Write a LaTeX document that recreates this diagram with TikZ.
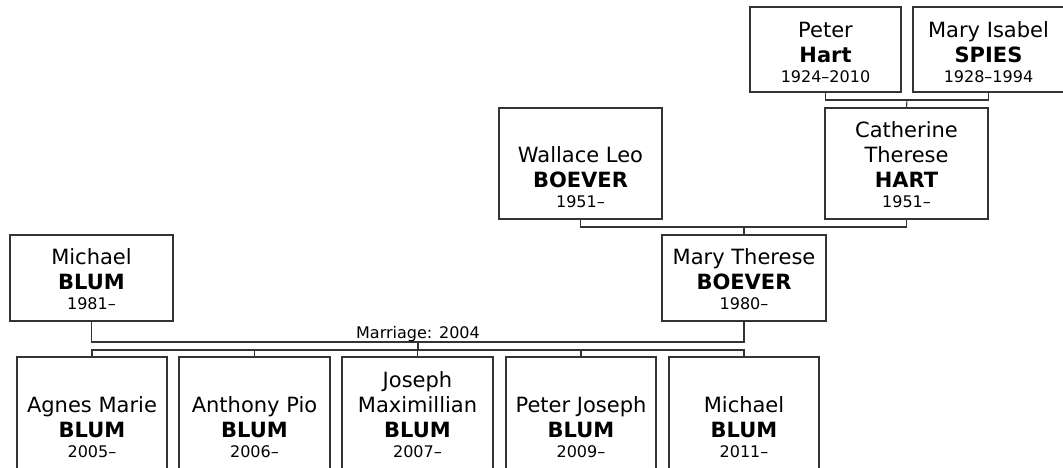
\documentclass[tikz,border=0pt]{standalone}
\usepackage{fontspec}
\setmainfont{DejaVu Sans}
\newcommand{\yr}{\fontsize{16}{19}\selectfont}
\tikzset{
  pbox/.style={draw=black!80, line width=1.1pt, inner sep=0pt, outer sep=0pt},
  ptext/.style={font=\fontsize{21}{25}\selectfont, align=center, inner sep=0pt, outer sep=0pt},
  conn/.style={draw=black!80, line width=1.1pt},
  mlabel/.style={font=\fontsize{16}{19}\selectfont, inner sep=0pt, anchor=base}
}
\newcommand{\person}[7]{%
  \node[pbox, minimum width={(#4-#2)*1pt}, minimum height={(#5-#3)*1pt}] (#1) at ({(#2+#4)/2},{(#3+#5)/2}) {};
  \node[ptext, anchor=south] (#1-t) at ({(#2+#4)/2},#6) {#7};
}
\begin{document}
\begin{tikzpicture}[x=1pt,y=-1pt]
\path[use as bounding box, fill=white] (0,0) rectangle (1063,468);

% grandparents
\person{peter}{750}{7}{901}{92}{83}{Peter\\\textbf{Hart}\\[-5pt]{\yr 1924–2010}}
\person{maryi}{913}{7}{1064}{92}{83}{Mary Isabel\\\textbf{SPIES}\\[-5pt]{\yr 1928–1994}}

% parents of Mary Therese
\person{wallace}{499}{108}{662}{219}{208}{Wallace Leo\\\textbf{BOEVER}\\[-5pt]{\yr 1951–}}
\person{cath}{825}{108}{988}{219}{208}{Catherine\\Therese\\\textbf{HART}\\[-5pt]{\yr 1951–}}

% couple
\person{michael}{10}{235}{173}{321}{310}{Michael\\\textbf{BLUM}\\[-5pt]{\yr 1981–}}
\person{maryt}{662}{235}{826}{321}{310}{Mary Therese\\\textbf{BOEVER}\\[-5pt]{\yr 1980–}}

% children
\person{c1}{17}{357}{167}{469}{458}{Agnes Marie\\\textbf{BLUM}\\[-5pt]{\yr 2005–}}
\person{c2}{179}{357}{330}{469}{458}{Anthony Pio\\\textbf{BLUM}\\[-5pt]{\yr 2006–}}
\person{c3}{342}{357}{493}{469}{458}{Joseph\\Maximillian\\\textbf{BLUM}\\[-5pt]{\yr 2007–}}
\person{c4}{506}{357}{656}{469}{458}{Peter Joseph\\\textbf{BLUM}\\[-5pt]{\yr 2009–}}
\person{c5}{669}{357}{819}{469}{458}{Michael\\\textbf{BLUM}\\[-5pt]{\yr 2011–}}

% connectors
\coordinate (pmbar) at (907,100);
\draw[conn] (peter.south) |- (pmbar) -| (maryi.south);
\draw[conn] (pmbar) -- (cath.north);

\coordinate (wcbar) at (744,227);
\draw[conn] (wallace.south) |- (wcbar) -| (cath.south);
\draw[conn] (wcbar) -- (maryt.north);

\coordinate (mar) at (418,342);
\draw[conn] (michael.south) |- (mar) -| (maryt.south);
\node[mlabel] (marlabel) at (418,338) {Marriage: 2004};

\coordinate (kids) at (418,350);
\draw[conn] (mar) -- (kids);
\draw[conn] (c1.north) |- (kids) -| (c5.north);
\draw[conn] (c2.north) -- (c2.north |- kids);
\draw[conn] (c3.north) -- (c3.north |- kids);
\draw[conn] (c4.north) -- (c4.north |- kids);
\end{tikzpicture}
\end{document}
